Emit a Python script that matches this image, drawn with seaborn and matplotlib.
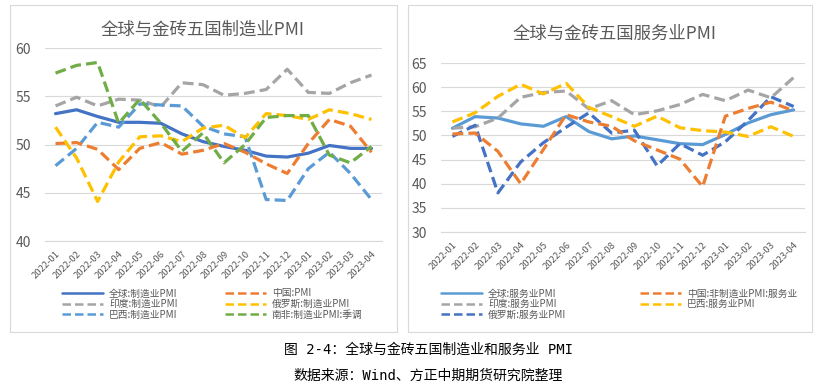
import numpy as np
import pandas as pd
import matplotlib
matplotlib.use('Agg')
import matplotlib.pyplot as plt
from matplotlib.patches import Rectangle
import seaborn as sns

months = ['2022-01', '2022-02', '2022-03', '2022-04', '2022-05', '2022-06',
          '2022-07', '2022-08', '2022-09', '2022-10', '2022-11', '2022-12',
          '2023-01', '2023-02', '2023-03', '2023-04']

# ── 制造业 PMI ──
mfg_global = [53.2, 53.6, 52.9, 52.3, 52.3, 52.2, 51.1, 50.3, 49.8, 49.4, 48.8, 48.7, 49.1, 49.9, 49.6, 49.6]
mfg_china  = [50.1, 50.2, 49.5, 47.4, 49.6, 50.2, 49.0, 49.4, 50.1, 49.2, 48.0, 47.0, 50.1, 52.6, 51.9, 49.2]
mfg_india  = [54.0, 54.9, 54.0, 54.7, 54.6, 53.9, 56.4, 56.2, 55.1, 55.3, 55.7, 57.8, 55.4, 55.3, 56.4, 57.2]
mfg_russia = [51.8, 48.6, 44.1, 48.2, 50.8, 50.9, 50.3, 51.7, 52.0, 50.7, 53.2, 53.0, 52.6, 53.6, 53.2, 52.6]
mfg_brazil = [47.8, 49.6, 52.3, 51.8, 54.2, 54.1, 54.0, 51.9, 51.1, 50.8, 44.3, 44.2, 47.5, 49.2, 47.0, 44.3]
mfg_safr   = [57.4, 58.2, 58.5, 52.2, 54.7, 52.2, 49.3, 51.2, 48.1, 50.0, 52.8, 53.0, 53.0, 48.9, 48.1, 49.8]

# ── 服务业 PMI ──
svc_global = [51.5, 53.9, 53.6, 52.4, 51.9, 53.9, 50.8, 49.3, 49.9, 49.1, 48.3, 48.1, 50.2, 52.6, 54.3, 55.3]
svc_china  = [50.3, 50.5, 46.7, 40.0, 47.1, 54.3, 52.8, 51.9, 48.9, 47.0, 45.1, 39.4, 54.0, 55.6, 56.9, 55.1]
svc_india  = [51.5, 51.8, 53.6, 57.9, 58.9, 59.2, 55.5, 57.2, 54.3, 55.1, 56.4, 58.5, 57.2, 59.4, 57.8, 62.0]
svc_brazil = [52.8, 54.7, 58.1, 60.6, 58.6, 60.8, 55.8, 53.9, 51.9, 54.0, 51.6, 51.0, 50.7, 49.8, 51.8, 49.8]
svc_russia = [49.8, 52.1, 38.1, 44.5, 48.5, 51.7, 54.7, 50.5, 51.1, 43.7, 48.3, 45.9, 48.7, 53.1, 58.0, 56.0]

mfg_names = ['全球:制造业PMI', '印度:制造业PMI', '巴西:制造业PMI',
             '中国:PMI', '俄罗斯:制造业PMI', '南非:制造业PMI:季调']
mfg_values = [mfg_global, mfg_india, mfg_brazil, mfg_china, mfg_russia, mfg_safr]
mfg_colors = ['#4472C4', '#A5A5A5', '#5B9BD5', '#ED7D31', '#FFC000', '#70AD47']

svc_names = ['全球:服务业PMI', '印度:服务业PMI', '俄罗斯:服务业PMI',
             '中国:非制造业PMI:服务业', '巴西:服务业PMI']
svc_values = [svc_global, svc_india, svc_russia, svc_china, svc_brazil]
svc_colors = ['#5B9BD5', '#A5A5A5', '#4472C4', '#ED7D31', '#FFC000']

sns.set_style('white')
plt.rcParams['font.family'] = ['Noto Sans CJK SC', 'DejaVu Sans']
TXT = '#595959'
DASH = (3.4, 1.6)


def long_frame(names, values):
    rows = []
    for n, v in zip(names, values):
        for m, y in zip(months, v):
            rows.append({'月份': m, '系列': n, '值': y})
    return pd.DataFrame(rows)


def draw_panel(ax, names, values, colors, ylim, step, leg_x, leg_y, colsp):
    df = long_frame(names, values)
    dashes = {n: ('' if i == 0 else DASH) for i, n in enumerate(names)}
    sns.lineplot(data=df, x='月份', y='值', hue='系列', style='系列',
                 hue_order=names, style_order=names, dashes=dashes,
                 palette=dict(zip(names, colors)), linewidth=2.3,
                 sort=False, ax=ax)
    ax.set_xlim(-0.5, len(months) - 0.5)
    ax.set_ylim(*ylim)
    ax.set_yticks(np.arange(ylim[0], ylim[1] + 0.1, step))
    ax.yaxis.grid(True, color='#D9D9D9', lw=0.8)
    ax.set_axisbelow(True)
    for s in ['top', 'right', 'left']:
        ax.spines[s].set_visible(False)
    ax.spines['bottom'].set_color('#D9D9D9')
    ax.set_xlabel('')
    ax.set_ylabel('')
    ax.set_xticks(range(len(months)))
    ax.set_xticklabels(months, rotation=45, ha='right', rotation_mode='anchor',
                       fontsize=6.8, color=TXT)
    ax.set_xticks(np.arange(-0.5, len(months), 1), minor=True)
    ax.tick_params(axis='x', which='major', length=0, pad=6)
    ax.tick_params(axis='x', which='minor', length=4, color='#D9D9D9')
    ax.tick_params(axis='y', length=0, labelsize=10, labelcolor=TXT, pad=10)
    h, l = ax.get_legend_handles_labels()
    ax.get_legend().remove()
    for hh in h:
        hh.set_linewidth(1.8)
    ax.legend(h, l, ncol=2, frameon=False, fontsize=7, labelcolor=TXT,
              loc='center left', bbox_to_anchor=(leg_x, leg_y),
              handlelength=4.2, columnspacing=colsp, labelspacing=0.05,
              handletextpad=0.6, borderaxespad=0)


fig = plt.figure(figsize=(8.21, 3.91), dpi=100)

# panel borders
for x0, w in [(10 / 821, 387 / 821), (408 / 821, 404 / 821)]:
    fig.patches.append(Rectangle((x0, 1 - 332 / 391), w, 327 / 391,
                                 transform=fig.transFigure, fill=False,
                                 edgecolor='#D9D9D9', lw=0.8))

ax1 = fig.add_axes([0.0548, 0.3836, 0.4105, 0.4936])
ax2 = fig.add_axes([0.5372, 0.4066, 0.4433, 0.4322])

draw_panel(ax1, mfg_names, mfg_values, mfg_colors, (40, 60), 5,
           0.04, -0.326, 4.9)
draw_panel(ax2, svc_names, svc_values, svc_colors, (30, 65), 5,
           -0.01, -0.426, 7.6)

fig.text(203 / 821, 1 - 30 / 391, '全球与金砖五国制造业PMI', ha='center',
         va='center', fontsize=12.5, color=TXT)
fig.text(615 / 821, 1 - 34 / 391, '全球与金砖五国服务业PMI', ha='center',
         va='center', fontsize=12.5, color=TXT)

fig.text(0.522, 1 - 350 / 391, '图 2-4：全球与金砖五国制造业和服务业 PMI',
         ha='center', va='center', fontsize=10, color='black',
         family=['DejaVu Sans Mono', 'Noto Sans CJK SC'])
fig.text(0.522, 1 - 376 / 391, '数据来源：Wind、方正中期期货研究院整理',
         ha='center', va='center', fontsize=10, color='black',
         family=['DejaVu Sans Mono', 'Noto Sans CJK SC'])

fig.savefig('out.png', dpi=100)
